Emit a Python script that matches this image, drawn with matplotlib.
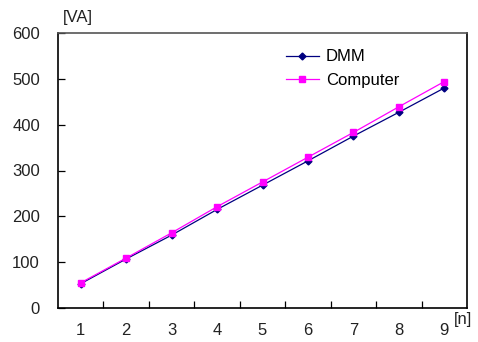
import matplotlib
matplotlib.use('Agg')
import matplotlib.pyplot as plt

plt.rcParams.update({'font.family': ['Liberation Sans', 'DejaVu Sans'], 'font.size': 12})

n = [1, 2, 3, 4, 5, 6, 7, 8, 9]
dmm = [53, 107, 159, 215, 268, 321, 375, 427, 480]
computer = [55, 109, 164, 221, 275, 329, 383, 439, 494]

fig = plt.figure(figsize=(4.78, 3.42), dpi=100)
ax = fig.add_axes([58 / 478, 1 - 308 / 342, 409 / 478, 275 / 342])

ax.plot(n, dmm, color='#000080', marker='D', markersize=3.5, linewidth=0.9, label='DMM')
ax.plot(n, computer, color='#FF00FF', marker='s', markersize=5, linewidth=0.9, label='Computer')

ax.set_xlim(0.5, 9.5)
ax.set_ylim(0, 600)
ax.set_yticks([0, 100, 200, 300, 400, 500, 600])
ax.set_xticks([i + 0.5 for i in range(1, 9)], minor=False)
ax.set_xticklabels([])
ax.set_xticks(n, minor=True)
ax.set_xticklabels([str(i) for i in n], minor=True)
ax.tick_params(axis='x', which='major', direction='in', length=5, width=0.9)
ax.tick_params(axis='x', which='minor', length=0, pad=11)
ax.tick_params(axis='y', direction='in', length=5, width=0.9, pad=13)
ax.tick_params(axis='both', which='both', labelcolor='#222222')

for s in ['left', 'bottom', 'right']:
    ax.spines[s].set_color('black')
    ax.spines[s].set_linewidth(1.2)
ax.spines['top'].set_color('#555555')
ax.spines['top'].set_linewidth(1.2)

ax.text(0.012, 1.03, '[VA]', transform=ax.transAxes, ha='left', va='bottom', color='#222222')
ax.text(1.012, -0.015, '[n]', transform=ax.transAxes, ha='right', va='top', color='#222222')

ax.legend(loc='upper left', bbox_to_anchor=(0.52, 0.995), frameon=False,
          handlelength=2.0, handletextpad=0.4, labelspacing=0.5)

fig.savefig('out.png', dpi=100, facecolor='white')
